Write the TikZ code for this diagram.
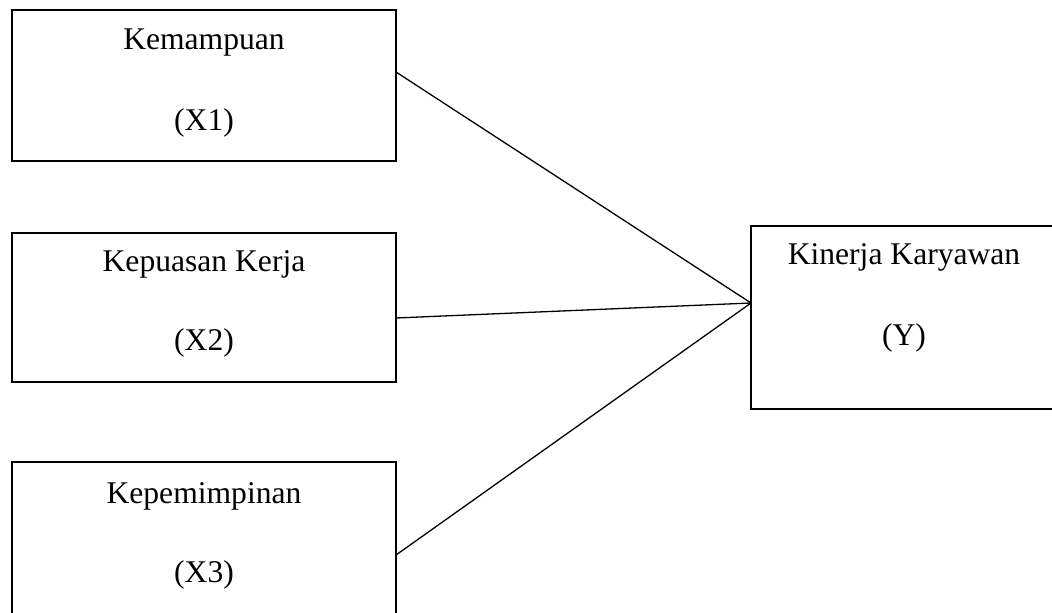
\documentclass[tikz,border=0pt]{standalone}
\usepackage{fontspec}
\setmainfont{Liberation Serif}
\usetikzlibrary{positioning}

\tikzset{
  varbox/.style={draw,line width=0.9pt,inner sep=0pt,outer sep=0pt,minimum width=192pt},
  vartext/.style={anchor=base,inner sep=0pt,font=\fontsize{15.8}{19}\selectfont},
  link/.style={line width=0.65pt},
}

\begin{document}
\begin{tikzpicture}[x=0.5pt,y=-0.5pt]
\useasboundingbox (0,0) rectangle (1052,613);
\clip (0,0) rectangle (1052,613);
% boxes
\node[varbox,minimum height=75.5pt] (x1) at (204,85.5) {};
\node[varbox,minimum height=74.5pt] (x2) at (204,307.5) {};
\node[varbox,minimum height=80pt] (x3) at (204,542) {};
\node[varbox,minimum width=153pt,minimum height=91.5pt] (y) at (904,317.5) {};
% texts
\node[vartext] (x1a) at (204,50) {Kemampuan};
\node[vartext] (x1b) at (204,131) {(X1)};
\node[vartext] (x2a) at (204,272) {Kepuasan Kerja};
\node[vartext] (x2b) at (204,351) {(X2)};
\node[vartext] (x3a) at (204,503) {Kepemimpinan};
\node[vartext] (x3b) at (204,582) {(X3)};
\node[vartext] (ya) at (904,265) {Kinerja Karyawan};
\node[vartext] (yb) at (904,346) {(Y)};
% lines
\coordinate (yin) at (y.west |- 0,303);
\draw[link] (x1.east |- 0,72) -- (yin);
\draw[link] (x2.east |- 0,318) -- (yin);
\draw[link] (x3.east |- 0,555) -- (yin);
\end{tikzpicture}
\end{document}
